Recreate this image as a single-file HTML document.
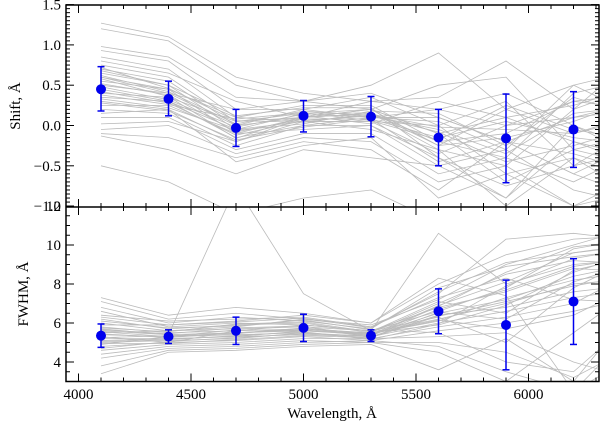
<!DOCTYPE html>
<html><head><meta charset="utf-8"><style>
body{margin:0;background:#fff}
svg text{font-family:"Liberation Serif",serif;fill:#000}
</style></head><body>
<svg id="c" width="600" height="425" xmlns="http://www.w3.org/2000/svg">
<defs>
<clipPath id="ct"><rect x="66" y="5" width="533" height="202"/></clipPath>
<clipPath id="cb"><rect x="66" y="207" width="533" height="175"/></clipPath>
</defs>
<g id="gt" clip-path="url(#ct)"></g>
<g id="gb" clip-path="url(#cb)"></g>
<g id="ax"></g>
</svg>
<script>
const wl=[4100,4400,4700,5000,5300,5600,5900,6200,6500];
const shiftMean=[0.45,0.33,-0.03,0.12,0.11,-0.15,-0.16,-0.05];
const shiftErrHi=[0.28,0.22,0.23,0.19,0.25,0.35,0.55,0.47];
const shiftErrLo=[0.27,0.21,0.23,0.2,0.25,0.35,0.55,0.47];
const fwhmMean=[5.35,5.3,5.6,5.75,5.35,6.6,5.9,7.1];
const fwhmErrHi=[0.6,0.35,0.7,0.7,0.3,1.15,2.3,2.2];
const fwhmErrLo=[0.6,0.35,0.7,0.7,0.3,1.15,2.3,2.2];
const shiftLines=[
[1.27,1.1,0.6,0.4,0.3,0.2,0.0,0.3,0.4],[1.2,1.05,0.5,0.3,0.4,0.1,-0.2,0.1,0.2],
[0.98,0.85,0.35,0.3,0.2,0.5,0.6,-0.3,-0.5],[0.93,0.8,0.2,0.2,0.35,0.0,0.3,-0.5,0.0],
[0.85,0.7,0.1,0.25,0.25,-0.2,-0.4,0.4,0.6],[0.75,0.6,0.05,0.15,0.2,-0.1,0.1,-0.2,-0.4],
[0.7,0.55,0.0,0.1,0.15,-0.3,-0.5,0.2,0.5],[0.65,0.5,-0.05,0.15,0.1,0.1,-0.2,-0.6,-0.9],
[0.6,0.45,0.1,0.05,0.05,-0.35,0.0,0.1,0.3],[0.55,0.45,-0.1,0.1,0.2,-0.1,-0.7,-0.3,-0.1],
[0.5,0.4,0.0,0.2,0.1,0.2,0.4,0.0,-0.3],[0.45,0.3,-0.15,0.0,0.0,-0.5,-0.3,-0.8,-1.0],
[0.4,0.35,0.05,0.1,0.15,-0.2,-0.1,0.3,0.2],[0.35,0.3,-0.05,0.05,0.05,0.0,-0.6,-0.4,-0.7],
[0.3,0.2,-0.2,0.1,0.2,-0.25,0.2,-0.1,0.1],[0.25,0.25,-0.1,-0.05,0.0,-0.4,-0.9,-0.2,-0.5],
[0.2,0.15,-0.25,0.0,0.1,0.05,-0.3,0.5,0.7],[0.1,0.1,-0.3,-0.1,-0.1,-0.6,-0.4,-0.7,-0.3],
[0.02,0.05,-0.2,0.05,-0.05,-0.3,-1.0,-0.4,-0.9],[-0.05,0.0,-0.35,-0.15,-0.2,-0.7,-0.5,-1.0,-0.6],
[-0.1,-0.15,-0.4,-0.2,-0.3,-0.8,-0.2,-0.6,-0.2],[-0.13,-0.3,-0.6,-0.3,-0.4,-0.5,-0.9,0.0,-0.4],
[-0.5,-0.7,-1.1,-0.9,-0.8,-1.2,-1.1,-1.2,-1.0],[0.6,0.4,0.2,0.3,0.5,0.9,0.2,0.5,0.1],
[0.8,0.65,0.3,0.1,0.3,0.35,0.8,0.2,0.9],[0.15,0.2,-0.45,-0.25,-0.15,-0.9,-0.6,-1.0,-0.8],
[0.62,0.42,0.02,0.18,0.12,-0.05,-0.35,0.15,0.25],[0.52,0.38,-0.08,0.08,0.08,-0.15,0.05,-0.15,-0.25],
[0.48,0.32,-0.02,0.14,0.16,-0.25,-0.15,0.05,0.35],[0.42,0.28,-0.12,0.06,0.12,-0.08,-0.45,-0.25,0.0],
[0.38,0.26,0.08,0.16,0.06,-0.18,0.25,-0.05,-0.2],[0.33,0.22,-0.06,0.02,0.18,0.15,-0.25,0.35,0.1],
[0.68,0.5,0.12,0.22,0.22,-0.4,-0.75,-0.5,-0.3],[0.58,0.36,-0.16,0.12,0.02,0.3,0.1,0.25,0.5],
[0.28,0.18,-0.18,-0.02,0.08,-0.45,-0.2,-0.35,-0.6],[0.72,0.46,0.06,0.04,0.14,-0.02,-0.05,-0.1,0.15]];
const fwhmLines=[
[7.3,6.4,6.8,6.5,6.0,8.0,9.5,10.3,10.5],[7.1,6.2,6.5,6.2,5.8,7.5,10.3,10.6,10.2],
[6.8,6.0,6.3,6.1,5.7,7.8,8.9,9.4,9.8],[6.6,5.8,6.0,5.9,5.6,10.6,8.0,9.0,9.3],
[6.2,5.7,5.9,6.0,5.5,7.0,8.5,9.2,9.0],[6.0,5.6,5.7,5.8,5.6,6.8,7.6,8.8,8.6],
[5.8,5.5,5.6,5.7,5.4,6.5,7.2,8.4,9.1],[5.6,5.4,5.5,5.6,5.5,6.2,7.0,8.0,8.3],
[5.4,5.3,5.4,5.5,5.3,6.4,6.8,7.6,8.0],[5.2,5.2,5.3,5.4,5.3,6.0,6.6,7.3,7.8],
[5.0,5.1,5.2,5.5,5.2,5.8,6.3,7.0,8.8],[4.8,5.0,5.1,5.3,5.1,5.6,6.0,6.6,7.4],
[4.6,4.9,5.0,5.2,5.2,5.3,5.5,4.0,3.0],[4.4,4.8,4.9,5.1,5.0,5.0,4.5,3.2,5.0],
[4.2,4.7,4.8,5.0,5.1,4.8,3.5,2.5,6.0],[3.8,4.6,4.7,4.9,5.0,4.5,3.0,5.5,8.0],
[3.4,4.5,4.6,4.8,4.9,3.6,5.2,3.0,7.2],[5.5,5.6,5.8,6.2,5.9,7.2,9.0,10.0,11.0],
[5.9,5.9,6.1,6.4,6.0,8.3,7.4,2.5,4.5],[5.1,5.2,5.3,5.6,5.4,6.9,8.1,9.6,10.0],
[5.3,5.0,5.6,5.9,5.6,6.3,5.0,7.8,9.5],[4.9,5.3,5.5,5.7,5.5,5.9,6.9,8.6,9.7],
[6.4,6.1,6.2,6.3,5.8,7.3,8.3,7.2,7.0],[5.7,5.4,13.0,7.5,5.6,6.6,7.8,9.8,10.4],
[5.45,5.25,5.5,5.65,5.35,6.7,7.7,8.9,9.4],[5.25,5.35,5.45,5.75,5.45,6.1,7.3,8.2,8.7],
[5.65,5.45,5.75,5.85,5.25,6.55,6.2,8.1,9.2],[5.05,5.15,5.35,5.55,5.15,5.95,7.9,9.3,9.9],
[4.95,4.95,5.15,5.35,5.25,6.35,7.1,7.9,8.5],[5.75,5.55,5.95,6.05,5.55,7.1,6.5,8.7,9.5],
[6.1,5.75,5.85,6.15,5.65,5.5,4.0,3.5,6.5],[4.7,5.05,5.25,5.45,5.35,6.85,8.6,9.9,10.3],
[5.55,5.3,5.65,5.6,5.45,6.15,5.7,6.4,8.1],[6.3,5.9,6.05,6.25,5.75,7.6,9.1,9.6,10.1]];
const xAt=v=>78.5+(v-4000)*0.225;
const yT=v=>125.5-v*80.6;
const yB=v=>206+(12-v)*19.5;
const NS="http://www.w3.org/2000/svg";
function mk(p,t,a){const e=document.createElementNS(NS,t);for(const k in a)e.setAttribute(k,a[k]);p.appendChild(e);return e;}
function drawLines(g,lines,yf,nm){
  lines.forEach(L=>{
    const el=mk(g,'polyline',{points:L.map((v,i)=>xAt(wl[i])+','+yf(v)).join(' '),fill:'none',stroke:'#bbb','stroke-width':0.8});
    
    
  });
}
drawLines(document.getElementById('gt'),shiftLines,yT,'shift-model-line');
drawLines(document.getElementById('gb'),fwhmLines,yB,'fwhm-model-line');
const ax=document.getElementById('ax');
function drawPts(m,hi,lo,yf,nm){
  m.forEach((v,i)=>{
    const x=xAt(wl[i]);
    const g=mk(ax,'g',{});
    
    
    mk(g,'line',{x1:x,x2:x,y1:yf(v+hi[i]),y2:yf(v-lo[i]),stroke:'#0000ee','stroke-width':1.5});
    mk(g,'line',{x1:x-3.5,x2:x+3.5,y1:yf(v+hi[i]),y2:yf(v+hi[i]),stroke:'#0000ee','stroke-width':1.5});
    mk(g,'line',{x1:x-3.5,x2:x+3.5,y1:yf(v-lo[i]),y2:yf(v-lo[i]),stroke:'#0000ee','stroke-width':1.5});
    mk(g,'circle',{cx:x,cy:yf(v),r:5,fill:'#0000ee'});
  });
}
drawPts(shiftMean,shiftErrHi,shiftErrLo,yT,'shift-mean-point');
drawPts(fwhmMean,fwhmErrHi,fwhmErrLo,yB,'fwhm-mean-point');
mk(ax,'rect',{x:66,y:5,width:533,height:376.5,fill:'none',stroke:'#000','stroke-width':1.5});
mk(ax,'line',{x1:66,x2:599,y1:207,y2:207,stroke:'#000','stroke-width':1.5});
for(let v=4000;v<=6300;v+=100){
  const x=xAt(v),maj=v%500===0,L=maj?8:4;
  [[5,1],[207,1],[207,-1],[381.5,-1]].forEach(([y,d])=>mk(ax,'line',{x1:x,x2:x,y1:y,y2:y+d*L,stroke:'#000','stroke-width':1}));
  if(maj){const t=mk(ax,'text',{x:x,y:399,'text-anchor':'middle','font-size':15});t.textContent=v;}
}
for(let k=-20;k<=30;k++){const v=k/20,y=yT(v),maj=k%10===0,L=maj?8:4;
  mk(ax,'line',{x1:66,x2:66+L,y1:y,y2:y,stroke:'#000'});mk(ax,'line',{x1:599,x2:599-L,y1:y,y2:y,stroke:'#000'});
  if(maj){const t=mk(ax,'text',{x:61,y:y+5,'text-anchor':'end','font-size':15});t.textContent=(v<0?'\u2212':'')+Math.abs(v).toFixed(1);}}
for(let k=6;k<=24;k++){const v=k/2,y=yB(v),maj=k%4===0,L=maj?8:4;
  mk(ax,'line',{x1:66,x2:66+L,y1:y,y2:y,stroke:'#000'});mk(ax,'line',{x1:599,x2:599-L,y1:y,y2:y,stroke:'#000'});
  if(maj){const t=mk(ax,'text',{x:61,y:y+5,'text-anchor':'end','font-size':15});t.textContent=v;}}
</script>
<svg style="position:absolute;left:0;top:0" width="600" height="425" xmlns="http://www.w3.org/2000/svg">
<text x="332" y="418" text-anchor="middle" font-size="15">Wavelength, Å</text>
<text transform="translate(20,106) rotate(-90)" text-anchor="middle" font-size="15">Shift, Å</text>
<text transform="translate(28,294) rotate(-90)" text-anchor="middle" font-size="15">FWHM, Å</text>
</svg>
</body></html>
